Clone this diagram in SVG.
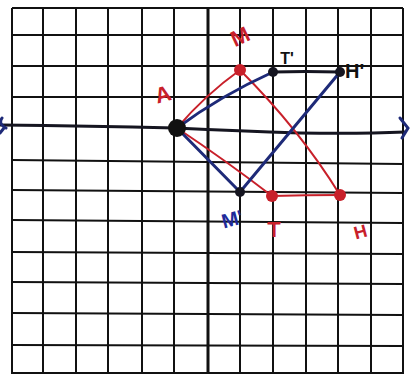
<svg xmlns="http://www.w3.org/2000/svg" width="411" height="378" viewBox="0 0 411 378">
<style>
.grid{stroke:#111;stroke-width:2;fill:none}
.yaxis{stroke:#111;stroke-width:3;fill:none}
.blue{stroke:#1e2a78;stroke-width:3;fill:none;stroke-linecap:round}
.red{stroke:#c8202a;stroke-width:2;fill:none;stroke-linecap:round}
.blk{stroke:#151520;stroke-width:3;fill:none}
.lr{font-family:"Liberation Sans",Arial,sans-serif;font-weight:bold;fill:#c8202a}
.lb{font-family:"Liberation Sans",Arial,sans-serif;font-weight:bold;fill:#1e2a9a}
.lk{font-family:"Liberation Sans",Arial,sans-serif;font-weight:bold;fill:#111}
</style>
<rect width="411" height="378" fill="#fff"/>
<g id="grid">
<path class="grid" d="M12,8V374 M43,8V374 M76,8V374 M108,8V374 M142,8V374 M174,8V374 M240,8V374 M273,8V374 M306,8V374 M338,8V374 M371,8V374 M403,8V374"/>
<path class="yaxis" d="M208,8V374"/>
<path class="grid" d="M12,8H403 M12,35H403 M12,66H403 M12,97H403 M12,160L403,164 M12,190L403,193 M12,220L403,223 M12,252L403,254 M12,282L403,284 M12,313L403,315 M12,345L403,346 M12,373H403"/>
</g>
<g id="connectors">
<path id="x-axis" class="blk" d="M0,125 Q90,126 175,128 Q240,131 300,133 Q360,134 405,132"/>
<path class="blue" d="M2,118 Q-2,124 6,128 M4,128 L0,133"/>
<path class="blue" d="M400,118 L408,128 L402,138"/>
<path class="red" d="M177,128 Q205,95 240,70"/>
<path class="red" d="M240,70 Q300,130 340,195"/>
<path class="red" d="M177,128 Q225,160 272,196"/>
<path class="red" d="M272,196 Q305,195 340,195"/>
<path class="blue" d="M177,128 Q220,96 273,72"/>
<path class="blk" d="M273,72 Q305,71 340,72"/>
<path class="blue" d="M340,72 L240,192"/>
<path class="blue" d="M240,192 L177,128"/>
</g>
<g id="node-A"><circle cx="177" cy="128" r="9" fill="#111"/><text class="lr" x="163" y="102" font-size="22" text-anchor="middle" transform="rotate(-15 163 95)">A</text></g>
<g id="node-M"><circle cx="240" cy="70" r="6" fill="#c8202a"/><text class="lr" x="240" y="44" font-size="22" text-anchor="middle" transform="rotate(-25 240 36)">M</text></g>
<g id="node-T1"><circle cx="273" cy="72" r="5" fill="#151520"/><text class="lk" x="287" y="64" font-size="16" text-anchor="middle">T'</text></g>
<g id="node-H1"><circle cx="340" cy="72" r="5" fill="#151520"/><text class="lk" x="345" y="78" font-size="20">H'</text></g>
<g id="node-M1"><circle cx="240" cy="192" r="5" fill="#151520"/><text class="lb" x="232" y="226" font-size="20" text-anchor="middle" transform="rotate(-15 232 218)">M'</text></g>
<g id="node-T"><circle cx="272" cy="196" r="6" fill="#c8202a"/><text class="lr" x="274" y="237" font-size="22" text-anchor="middle">T</text></g>
<g id="node-H"><circle cx="340" cy="195" r="6" fill="#c8202a"/><text class="lr" x="360" y="238" font-size="18" text-anchor="middle" transform="rotate(-15 360 230)">H</text></g>
</svg>
